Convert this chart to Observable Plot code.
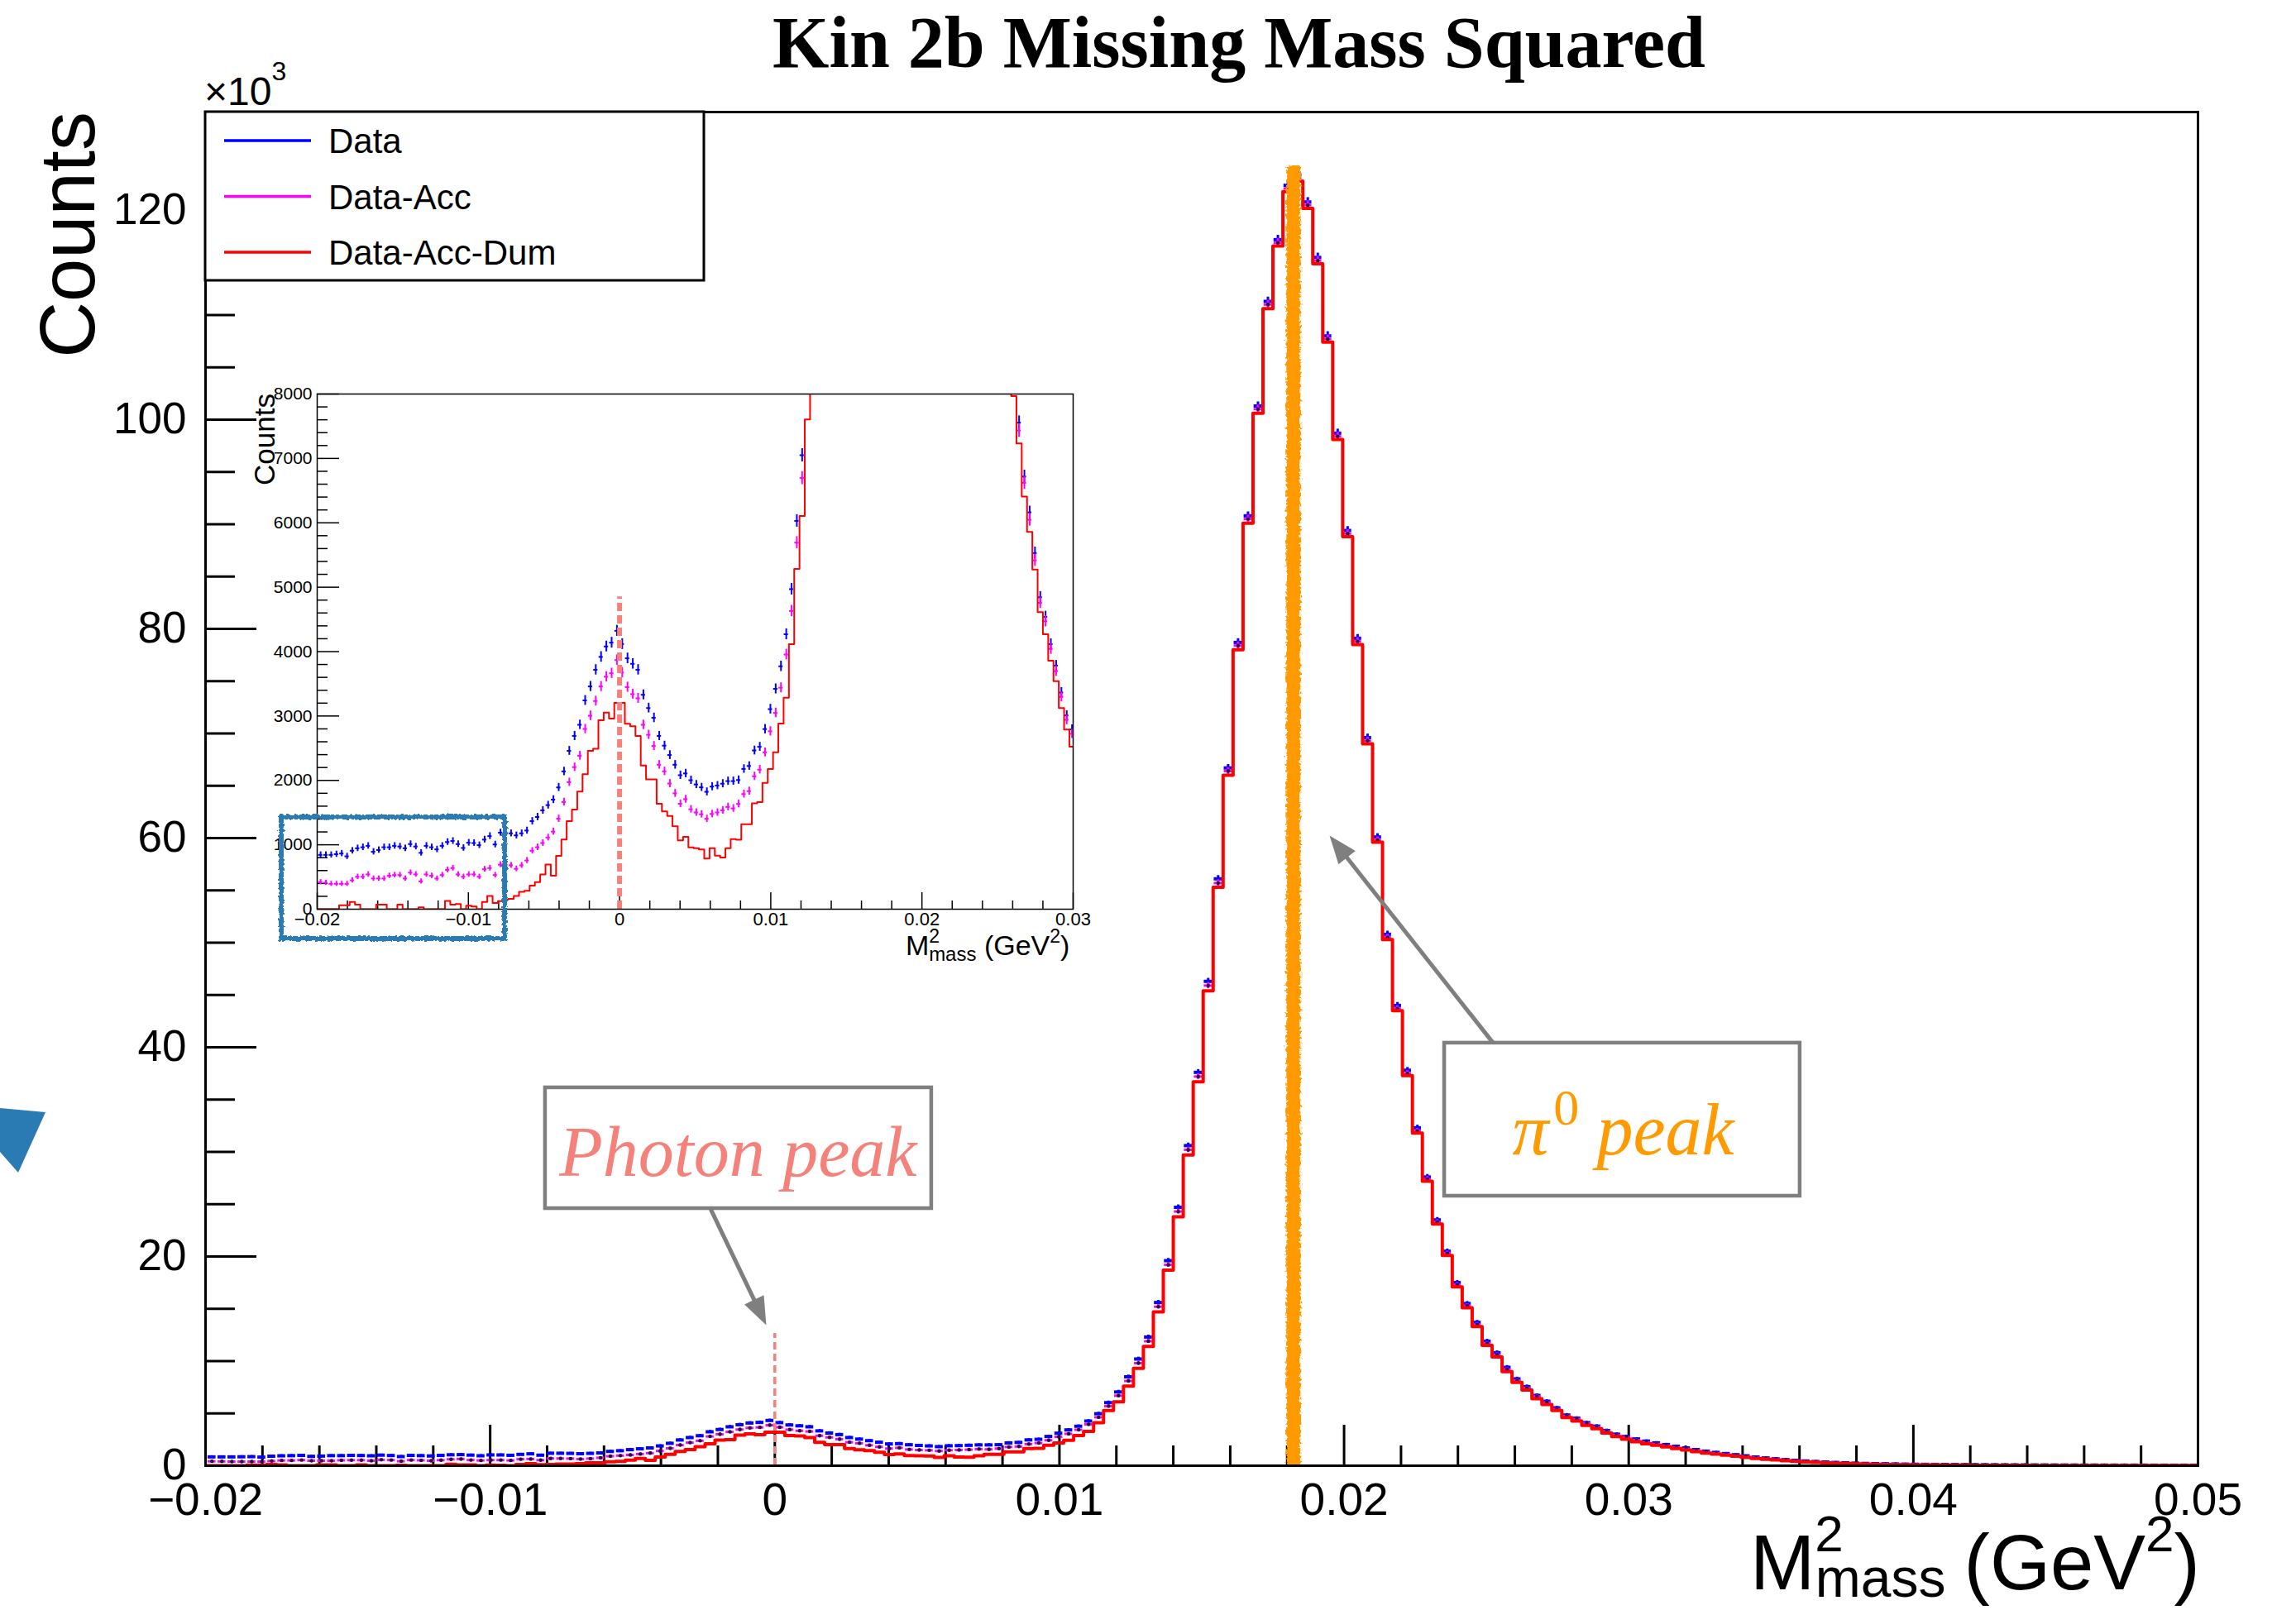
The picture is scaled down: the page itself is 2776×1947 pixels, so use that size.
<!DOCTYPE html>
<html>
<head>
<meta charset="utf-8">
<title>Kin 2b Missing Mass Squared</title>
<script src="https://cdn.jsdelivr.net/npm/d3@7"></script>
<script src="https://cdn.jsdelivr.net/npm/@observablehq/plot@0.6"></script>
<style>
  html, body { margin: 0; padding: 0; background: #fff; }
  #wrap { position: relative; width: 2776px; height: 1947px; overflow: hidden; background: #fff; }
  #title { position: absolute; left: 110px; top: 8px; width: 2776px; text-align: center;
           font-family: "Liberation Serif", "DejaVu Serif", serif; font-weight: bold;
           font-size: 88px; line-height: 88px; color: #000; }
  #main { position: absolute; left: 0; top: 0; width: 2776px; height: 1947px; }
  #inset { position: absolute; left: 280px; top: 450px; width: 1060px; height: 730px; }
  #deco { position: absolute; left: 0; top: 1330px; }
  svg { overflow: visible; }
</style>
</head>
<body>
<div id="wrap">
  <div id="main"></div>
  <div id="inset"></div>
  <div id="title">Kin 2b Missing Mass Squared</div>
</div>
<script>
const SANS = '"Liberation Sans", Arial, Helvetica, sans-serif';
const SERIF = '"Liberation Serif", "Times New Roman", serif';

// ---------------- DATA (counts per bin, bin width 0.00035 GeV^2, first bin starts at -57*0.00035) ----------------
const BIN_WIDTH = 0.00035;
const FIRST_BIN = -57;

const dataCounts = [
  843, 843, 843, 854, 865, 821, 908, 946, 962, 984,
  892, 919, 962, 962, 984, 973, 946, 1011, 973, 875,
  984, 962, 929, 984, 1043, 1059, 1011, 951, 1032, 1027,
  994, 1081, 1135, 1005, 1189, 1189, 1178, 1146, 1178, 1221,
  1367, 1432, 1535, 1616, 1702, 1891, 2140, 2459, 2691, 2864,
  3242, 3459, 3718, 3918, 4080, 4139, 4323, 4118, 3896, 3810,
  3718, 3329, 3124, 2972, 2691, 2540, 2394, 2243, 2081, 2108,
  2003, 1937, 1892, 1823, 1903, 1920, 1949, 1989, 1989, 2006,
  2178, 2224, 2465, 2522, 2797, 3107, 3422, 3772, 4270, 4970,
  6030, 7050, 8500, 10200, 12300, 15600, 19600, 24700, 30600, 37600,
  46300, 56100, 66700, 78700, 90800, 101300, 111300, 117200, 122400, 123400,
  120800, 115500, 108000, 98700, 89400, 79100, 69600, 60100, 50800, 44000,
  37800, 32300, 27600, 23500, 20500, 17500, 15500, 13700, 11900, 10800,
  9400, 8300, 7555, 6718, 6162, 5531, 4844, 4540, 4116, 3783,
  3365, 3009, 2791, 2560, 2350, 2180, 2020, 1860, 1700, 1540,
  1390, 1270, 1160, 1050, 940, 830, 740, 660, 580, 510,
  450, 400, 350, 310, 275, 245, 220, 200, 180, 165,
  150, 140, 130, 122, 115, 108, 102, 97, 92, 88,
  84, 80, 77, 74, 71, 68, 66, 64, 62, 60,
  58, 56, 55, 54, 53, 52, 51, 50, 50, 49
];

const accCounts = [
  421, 411, 394, 394, 394, 394, 449, 503, 503, 540,
  476, 476, 476, 519, 530, 530, 476, 567, 540, 432,
  540, 519, 476, 530, 611, 638, 540, 503, 540, 540,
  503, 621, 638, 530, 692, 692, 681, 627, 681, 757,
  908, 962, 1027, 1113, 1205, 1405, 1664, 1972, 2205, 2383,
  2799, 3004, 3232, 3459, 3610, 3664, 3869, 3675, 3448, 3340,
  3275, 2864, 2708, 2535, 2243, 2141, 1951, 1799, 1637, 1708,
  1552, 1502, 1474, 1404, 1479, 1502, 1536, 1588, 1565, 1634,
  1788, 1834, 2064, 2167, 2436, 2763, 3049, 3439, 3955, 4631,
  5692, 6695, 8100, 9800, 11900, 15200, 19200, 24300, 30200, 37200,
  45900, 55700, 66400, 78400, 90500, 101000, 111000, 116900, 122100, 123100,
  120500, 115200, 107700, 98400, 89100, 78800, 69300, 59800, 50500, 43700,
  37500, 32000, 27400, 23300, 20300, 17300, 15300, 13500, 11700, 10600,
  9200, 8150, 7434, 6621, 6047, 5417, 4758, 4471, 4041, 3697,
  3296, 2940, 2723, 2450, 2240, 2080, 1920, 1760, 1600, 1450,
  1300, 1190, 1080, 970, 870, 770, 680, 600, 530, 465,
  405, 360, 315, 275, 242, 212, 190, 170, 150, 135,
  122, 112, 104, 96, 89, 83, 77, 72, 67, 63,
  60, 57, 54, 51, 49, 47, 45, 43, 41, 40,
  38, 37, 36, 35, 34, 33, 32, 31, 31, 30
];

const dumCounts = [
  0, 0, 0, 0, 60, 60, 113, 70, 0, 0,
  0, 70, 70, 0, 0, 70, 0, 0, 0, 30,
  0, 0, 0, 0, 130, 70, 80, 0, 54, 43,
  0, 113, 205, 97, 124, 151, 162, 205, 270, 286,
  367, 421, 540, 692, 519, 827, 1081, 1367, 1546, 1827,
  2097, 2459, 2491, 2934, 3053, 2961, 3205, 3205, 2880, 2842,
  2691, 2232, 2016, 2016, 1637, 1519, 1448, 1286, 1070, 1124,
  960, 946, 929, 785, 946, 831, 802, 946, 1089, 1078,
  1318, 1318, 1645, 1662, 1960, 2178, 2436, 2883, 3284, 4116,
  5285, 6105, 7606, 9300, 11400, 14700, 18700, 23800, 29700, 36700,
  45400, 55300, 66000, 78000, 90100, 100600, 110600, 116600, 121800, 122800,
  120200, 114900, 107400, 98100, 88800, 78500, 69000, 59600, 50300, 43500,
  37300, 31800, 27200, 23100, 20100, 17100, 15100, 13300, 11500, 10400,
  9000, 7967, 7234, 6408, 5858, 5273, 4614, 4270, 3858, 3542,
  3124, 2791, 2522, 2300, 2100, 1950, 1800, 1650, 1500, 1350,
  1200, 1100, 1000, 900, 800, 700, 620, 550, 480, 420,
  360, 320, 280, 240, 210, 180, 160, 140, 120, 105,
  95, 85, 78, 70, 64, 58, 52, 47, 43, 40,
  37, 34, 31, 29, 27, 25, 23, 21, 20, 19,
  18, 17, 16, 15, 14, 13, 12, 12, 11, 11
];

const seriesNames = ["Data", "Data-Acc", "Data-Acc-Dum"];
const seriesColors = ["#0000ff", "#ff00ff", "#ff0000"];

const xTicksMain = [-0.02, -0.01, 0, 0.01, 0.02, 0.03, 0.04, 0.05];
const yTicksMain = [0, 20000, 40000, 60000, 80000, 100000, 120000];
const xTicksInset = [-0.02, -0.01, 0, 0.01, 0.02, 0.03];
const yTicksInset = [0, 1000, 2000, 3000, 4000, 5000, 6000, 7000, 8000];

// ---------------- ANNOTATIONS (data coordinates) ----------------
const photonLine = {x: 0, top: 12650};
const insetPhotonLine = {x: 0, top: 4850};
const pi0Band = {x: 0.01822, top: 124200};
const photonBox = {x1: -0.00806, x2: 0.00551, y1: 24580, y2: 36130};
const photonLabel = {x: -0.00129, y: 27670, text: "Photon peak"};
const photonArrow = {x1: -0.00225, y1: 24510, x2: -0.0003, y2: 13440};
const pi0Box = {x1: 0.02353, x2: 0.03602, y1: 25770, y2: 40400};
const pi0Arrow = {x1: 0.02524, y1: 40400, x2: 0.01949, y2: 60240};
const pi0LabelParts = {pi: {x: 0.02591, y: 29800}, sup: {x: 0.02736, y: 32570}, word: {x: 0.028875, y: 29800}};
const zoomBox = {x1: -0.02235, x2: -0.00758, y1: -462, y2: 1425};

const GRAY = "#7f7f7f", SALMON = "#f5827a", ORANGE = "#ff9a00", BOXBLUE = "#2a7ab4";

// ---------------- derived table ----------------
const bins = dataCounts.map((v, i) => {
  const x0 = (FIRST_BIN + i) * BIN_WIDTH;
  return {x0, x1: x0 + BIN_WIDTH, xc: x0 + BIN_WIDTH / 2, data: v, acc: accCounts[i], dum: dumCounts[i]};
});
const lastBin = bins[bins.length - 1];
const stepPoints = bins.map(b => ({x: b.x0, y: b.dum})).concat([{x: lastBin.x1, y: lastBin.dum}]);

const fmtX = d => d === 0 ? "0" : (d < 0 ? "\u2212" : "") + String(+Math.abs(d).toFixed(2));

// error-bar crosses: y1 is the upper end so negative insets lengthen the bar
function markers(key, color, o) {
  const m = [
    Plot.ruleY(bins, {x1: d => d.xc - o.half * BIN_WIDTH, x2: d => d.xc + o.half * BIN_WIDTH, y: key,
      stroke: color, strokeWidth: o.sw, clip: true}),
    Plot.ruleX(bins, {x: "xc", y1: d => d[key] + Math.sqrt(d[key]), y2: d => d[key] - Math.sqrt(d[key]),
      stroke: color, strokeWidth: o.vsw, insetTop: -o.ext, insetBottom: -o.ext, clip: true})
  ];
  if (o.dotR) m.push(Plot.dot(bins, {x: "xc", y: key, r: o.dotR, fill: "#151530", stroke: "none", clip: true}));
  return m;
}

function arrowMarks(a, kx, ky, color, width, headLen, headHalf) {
  const sx = (a.x2 - a.x1) * kx, sy = -(a.y2 - a.y1) * ky;
  const len = Math.hypot(sx, sy);
  const f = (len - headLen * 0.6) / len;
  const row = {...a, ex: a.x1 + (a.x2 - a.x1) * f, ey: a.y1 + (a.y2 - a.y1) * f};
  const angle = Math.atan2(sx, -sy) * 180 / Math.PI;
  const head = {draw(ctx, l) { ctx.moveTo(0, -l); ctx.lineTo(-headHalf, 0); ctx.lineTo(headHalf, 0); ctx.closePath(); }};
  return [
    Plot.link([row], {x1: "x1", y1: "y1", x2: "ex", y2: "ey", stroke: color, strokeWidth: width}),
    Plot.vector([row], {x: "x2", y: "y2", length: headLen, rotate: angle, anchor: "end", shape: head, fill: color, stroke: "none"})
  ];
}

// ---------------- MAIN PLOT ----------------
const MW = 2776, MH = 1947, ML = 248, MR = 119, MT = 135, MB = 175;
const xDomMain = [-0.02, 0.05], yDomMain = [0, 129400];
const kxM = (MW - ML - MR) / (xDomMain[1] - xDomMain[0]);
const kyM = (MH - MT - MB) / (yDomMain[1] - yDomMain[0]);
const yMinorMain = d3.range(5000, yDomMain[1], 5000).filter(v => v % 20000 !== 0);
const xMinorMain = d3.range(-20, 51, 2).filter(v => v % 10 !== 0).map(v => v / 1000);

const main = Plot.plot({
  width: MW, height: MH, marginLeft: ML, marginRight: MR, marginTop: MT, marginBottom: MB,
  x: {domain: xDomMain, axis: null},
  y: {domain: yDomMain, axis: null},
  style: {fontFamily: SANS, background: "transparent", overflow: "visible", maxWidth: "none"},
  marks: [
    Plot.ruleY(yTicksMain, {x1: xDomMain[0], x2: xDomMain[0] + 62 / kxM, stroke: "#000", strokeWidth: 3}),
    Plot.ruleY(yMinorMain, {x1: xDomMain[0], x2: xDomMain[0] + 36 / kxM, stroke: "#000", strokeWidth: 3}),
    Plot.ruleX(xTicksMain, {y1: 0, y2: 49 / kyM, stroke: "#000", strokeWidth: 3}),
    Plot.ruleX(xMinorMain, {y1: 0, y2: 24 / kyM, stroke: "#000", strokeWidth: 3}),
    Plot.axisY({ticks: yTicksMain, tickSize: 0, tickPadding: 23, tickFormat: d => String(d / 1000), fontSize: 53, label: null}),
    Plot.axisX({ticks: xTicksMain, tickSize: 0, tickPadding: 20, tickFormat: fmtX, fontSize: 55, label: null}),
    ...markers("data", seriesColors[0], {half: 0.4, sw: 4, vsw: 3, ext: 1, dotR: 0}),
    ...markers("acc", seriesColors[1], {half: 0.4, sw: 3, vsw: 3, ext: 1, dotR: 2.2}),
    Plot.line(stepPoints, {x: "x", y: "y", curve: "step-after", stroke: seriesColors[2], strokeWidth: 4, clip: true}),
    Plot.ruleX([pi0Band], {x: "x", y1: 0, y2: "top", stroke: ORANGE, strokeWidth: 17, ariaDescription: "pi0-band"}),
    Plot.ruleX([photonLine], {x: "x", y1: 0, y2: "top", stroke: SALMON, strokeWidth: 3.5, strokeDasharray: "9,5"}),
    Plot.frame({stroke: "#000", strokeWidth: 3}),
    Plot.rect([photonBox], {x1: "x1", x2: "x2", y1: "y1", y2: "y2", fill: "white", stroke: GRAY, strokeWidth: 4.5}),
    Plot.text([photonLabel], {x: "x", y: "y", text: "text", fontFamily: SERIF, fontStyle: "italic", fontSize: 86,
      fill: SALMON, textAnchor: "middle", lineAnchor: "bottom"}),
    ...arrowMarks(photonArrow, kxM, kyM, GRAY, 5, 34, 13),
    Plot.rect([pi0Box], {x1: "x1", x2: "x2", y1: "y1", y2: "y2", fill: "white", stroke: GRAY, strokeWidth: 4.5}),
    Plot.text([pi0LabelParts.pi], {x: "x", y: "y", text: () => "\u03c0", fontFamily: SERIF, fontStyle: "italic", fontSize: 88,
      fill: ORANGE, textAnchor: "start", lineAnchor: "bottom"}),
    Plot.text([pi0LabelParts.sup], {x: "x", y: "y", text: () => "0", fontFamily: SERIF, fontSize: 62,
      fill: ORANGE, textAnchor: "start", lineAnchor: "bottom"}),
    Plot.text([pi0LabelParts.word], {x: "x", y: "y", text: () => "peak", fontFamily: SERIF, fontStyle: "italic", fontSize: 88,
      fill: ORANGE, textAnchor: "start", lineAnchor: "bottom"}),
    ...arrowMarks(pi0Arrow, kxM, kyM, GRAY, 5, 34, 13)
  ]
});
document.getElementById("main").appendChild(main);

const msvg = d3.select(main);
msvg.insert("defs", ":first-child").html(
  '<filter id="rough" filterUnits="userSpaceOnUse" x="0" y="0" width="2776" height="1947">' +
  '<feTurbulence type="fractalNoise" baseFrequency="0.3" numOctaves="2" seed="3" result="n"/>' +
  '<feDisplacementMap in="SourceGraphic" in2="n" scale="8" xChannelSelector="R" yChannelSelector="G"/></filter>');
msvg.selectAll(`g[aria-description="pi0-band"]`).attr("filter", "url(#rough)");

// legend
const lg = msvg.append("g").attr("font-family", SANS).attr("text-anchor", "start");
lg.append("rect").attr("x", ML).attr("y", MT).attr("width", 603).attr("height", 204)
  .attr("fill", "white").attr("stroke", "#000").attr("stroke-width", 3);
seriesNames.forEach((name, i) => {
  const y = 170 + i * 67.5;
  lg.append("line").attr("x1", 271).attr("x2", 376).attr("y1", y).attr("y2", y)
    .attr("stroke", seriesColors[i]).attr("stroke-width", 3.5);
  lg.append("text").attr("x", 397).attr("y", y).attr("dy", "0.36em").attr("font-size", 42)
    .attr("text-anchor", "start").text(name);
});

// x10^3
const ex = msvg.append("text").attr("x", 247).attr("y", 127).attr("font-family", SANS)
  .attr("font-size", 48).attr("text-anchor", "start");
ex.append("tspan").text("\u00d710");
ex.append("tspan").attr("font-size", 32).attr("dy", -30).text("3");

// y title
msvg.append("text").attr("transform", "translate(114,135) rotate(-90)").attr("text-anchor", "end")
  .attr("font-family", SANS).attr("font-size", 94).text("Counts");

// x title
const xt = msvg.append("text").attr("x", 2116).attr("y", 1922).attr("font-family", SANS)
  .attr("font-size", 94).attr("text-anchor", "start");
xt.append("tspan").text("M");
xt.append("tspan").attr("font-size", 62).attr("dy", -46).text("2");
xt.append("tspan").attr("font-size", 66).attr("dx", -34).attr("dy", 55).text("mass");
xt.append("tspan").attr("dy", -9).attr("dx", -4).text(" (GeV");
xt.append("tspan").attr("font-size", 62).attr("dy", -46).text("2");
xt.append("tspan").attr("dy", 46).text(")");

// ---------------- INSET PLOT ----------------
const IW = 1060, IH = 730, IL = 103, IR = 43, IT = 26, IB = 81;
const xDomInset = [-0.02, 0.03], yDomInset = [0, 8000];
const kxI = (IW - IL - IR) / (xDomInset[1] - xDomInset[0]);
const kyI = (IH - IT - IB) / (yDomInset[1] - yDomInset[0]);
const yMinorInset = d3.range(200, 8000, 200).filter(v => v % 1000 !== 0);
const xMinorInset = d3.range(-20, 31, 2).filter(v => v % 10 !== 0).map(v => v / 1000);

const inset = Plot.plot({
  width: IW, height: IH, marginLeft: IL, marginRight: IR, marginTop: IT, marginBottom: IB,
  x: {domain: xDomInset, axis: null},
  y: {domain: yDomInset, axis: null},
  style: {fontFamily: SANS, background: "transparent", overflow: "visible", maxWidth: "none"},
  marks: [
    Plot.frame({fill: "white", stroke: "none"}),
    Plot.ruleY(yTicksInset, {x1: xDomInset[0], x2: xDomInset[0] + 27 / kxI, stroke: "#000", strokeWidth: 1.5}),
    Plot.ruleY(yMinorInset, {x1: xDomInset[0], x2: xDomInset[0] + 13 / kxI, stroke: "#000", strokeWidth: 1.5}),
    Plot.ruleX(xTicksInset, {y1: 0, y2: 20 / kyI, stroke: "#000", strokeWidth: 1.5}),
    Plot.ruleX(xMinorInset, {y1: 0, y2: 10 / kyI, stroke: "#000", strokeWidth: 1.5}),
    Plot.axisY({ticks: yTicksInset, tickSize: 0, tickPadding: 6, tickFormat: d => String(d), fontSize: 21, label: null}),
    Plot.axisX({ticks: xTicksInset, tickSize: 0, tickPadding: 4, tickFormat: fmtX, fontSize: 22, label: null}),
    ...markers("data", seriesColors[0], {half: 0.4, sw: 2, vsw: 2, ext: 1.5, dotR: 0}),
    ...markers("acc", seriesColors[1], {half: 0.4, sw: 2, vsw: 2, ext: 1.5, dotR: 0}),
    Plot.line(stepPoints, {x: "x", y: "y", curve: "step-after", stroke: seriesColors[2], strokeWidth: 2, clip: true}),
    Plot.ruleX([insetPhotonLine], {x: "x", y1: 0, y2: "top", stroke: SALMON, strokeWidth: 6, strokeDasharray: "10,5"}),
    Plot.frame({stroke: "#000", strokeWidth: 1.5}),
    Plot.rect([zoomBox], {x1: "x1", x2: "x2", y1: "y1", y2: "y2", fill: "none", stroke: BOXBLUE, strokeWidth: 6, ariaDescription: "zoom-box"})
  ]
});
document.getElementById("inset").appendChild(inset);
const isvg = d3.select(inset);
isvg.insert("defs", ":first-child").html(
  '<filter id="rough2" filterUnits="userSpaceOnUse" x="0" y="0" width="1060" height="730">' +
  '<feTurbulence type="fractalNoise" baseFrequency="0.3" numOctaves="2" seed="7" result="n"/>' +
  '<feDisplacementMap in="SourceGraphic" in2="n" scale="5" xChannelSelector="R" yChannelSelector="G"/></filter>');
isvg.selectAll(`g[aria-description="zoom-box"]`).attr("filter", "url(#rough2)");

isvg.append("text").attr("transform", `translate(${IL - 51},${IT}) rotate(-90)`).attr("text-anchor", "end")
  .attr("font-family", SANS).attr("font-size", 35).text("Counts");
const ixt = isvg.append("text").attr("x", IL + 712).attr("y", 705).attr("font-family", SANS)
  .attr("font-size", 34).attr("text-anchor", "start");
ixt.append("tspan").text("M");
ixt.append("tspan").attr("font-size", 23).attr("dy", -15).text("2");
ixt.append("tspan").attr("font-size", 24).attr("dx", -13).attr("dy", 22).text("mass");
ixt.append("tspan").attr("dy", -7).text(" (GeV");
ixt.append("tspan").attr("font-size", 23).attr("dy", -15).text("2");
ixt.append("tspan").attr("dy", 15).text(")");

// stray blue marker mark at the left edge of the reference
d3.select("#wrap").append("svg").attr("id", "deco").attr("width", 60).attr("height", 95)
  .append("path").attr("d", "M0,10 L55,15 L22,88 L0,63 Z").attr("fill", BOXBLUE);
</script>
</body>
</html>
